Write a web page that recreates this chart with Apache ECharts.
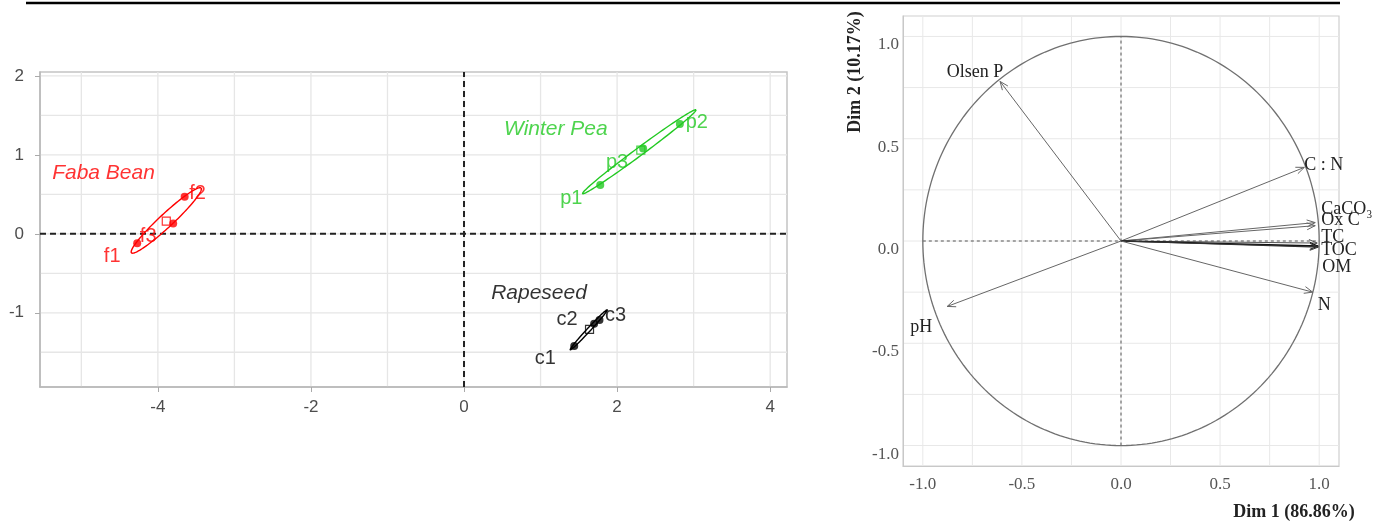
<!DOCTYPE html>
<html><head><meta charset="utf-8">
<script src="https://cdn.jsdelivr.net/npm/echarts@6/dist/echarts.min.js"></script>
<style>html,body{margin:0;padding:0;background:#fff}#c{width:1381px;height:523px}</style>
</head><body><div id="c"></div>
<script>
// ---------- Left panel: individuals ----------
const fabaNames = ['f1', 'f2', 'f3'];
const fabaX = [-4.27, -3.65, -3.80];
const fabaY = [-0.12, 0.47, 0.13];
const peaNames = ['p1', 'p2', 'p3'];
const peaX = [1.78, 2.82, 2.34];
const peaY = [0.62, 1.39, 1.08];
const rapeNames = ['c1', 'c2', 'c3'];
const rapeX = [1.44, 1.70, 1.77];
const rapeY = [-1.42, -1.14, -1.09];
const groupNames = ['Faba Bean', 'Winter Pea', 'Rapeseed'];
const groupCentroidX = [-3.89, 2.31, 1.64];
const groupCentroidY = [0.16, 1.06, -1.21];
// confidence ellipses: centre, major semi-axis vector, minor semi-axis vector (data units)
const ellipseCenterX = [-3.89, 2.29, 1.63];
const ellipseCenterY = [0.17, 1.04, -1.215];
const ellipseMajorX = [0.455, 0.74, 0.242];
const ellipseMajorY = [0.41, 0.53, 0.253];
const ellipseMinorX = [-0.058, -0.029, -0.016];
const ellipseMinorY = [0.064, 0.041, 0.015];
const groupLabelX = [-4.71, 1.20, 0.98];
const groupLabelY = [0.77, 1.32, -0.75];
const leftXTicks = [-4, -2, 0, 2, 4];
const leftYTicks = [-1, 0, 1, 2];
const leftXGrid = [-5, -4, -3, -2, -1, 0, 1, 2, 3, 4];
const leftYGrid = [-1.5, -1, -0.5, 0, 0.5, 1, 1.5, 2];
const leftXRange = [-5.54, 4.22];
const leftYRange = [-1.94, 2.05];

// ---------- Right panel: variables ----------
const varNames = ['Olsen P', 'C : N', 'CaCO₃', 'Ox C', 'TC', 'TOC', 'OM', 'N', 'pH'];
const varDim1 = [-0.61, 0.925, 0.98, 0.98, 0.99, 0.995, 0.995, 0.967, -0.877];
const varDim2 = [0.78, 0.36, 0.09, 0.075, -0.01, -0.025, -0.03, -0.25, -0.32];
const rightTicks = [-1, -0.5, 0, 0.5, 1];
const rightGrid = [-1, -0.75, -0.5, -0.25, 0, 0.25, 0.5, 0.75, 1];
const rightRange = [-1.1, 1.1];
const xTitle = 'Dim 1 (86.86%)';
const yTitle = 'Dim 2 (10.17%)';

// ---------- styles ----------
const SANS = 'Liberation Sans, Arial, sans-serif';
const SERIF = 'Liberation Serif, Times New Roman, serif';
const groupColors = ['#ff0000', '#22c922', '#000000'];
const pointLabelOffsets = [
  [[-25, 13], [13, -3], [-25, 13]],
  [[-29, 14], [17, -2], [-26, 14]],
  [[-29, 13], [-27, -4], [16, -4]]
];
const varColors = ['#666', '#666', '#666', '#666', '#555', '#111', '#333', '#666', '#666'];
const varWidths = [1, 1, 1, 1, 1, 1.6, 1.2, 1, 1];
const varLabelStyle = [
  {dx: -25, dy: -9, align: 'center'},
  {dx: 0, dy: -2, align: 'left'},
  {dx: 6, dy: -13, align: 'left'},
  {dx: 6, dy: -5, align: 'left'},
  {dx: 4, dy: -6, align: 'left'},
  {dx: 3, dy: 4, align: 'left'},
  {dx: 4, dy: 20, align: 'left'},
  {dx: 5, dy: 13, align: 'left'},
  {dx: -26, dy: 21, align: 'center'}
];

function gridRender(xs, ys, xr, yr, style) {
  return function (params, api) {
    const ch = [];
    xs.forEach(v => {
      const a = api.coord([v, yr[0]]), b = api.coord([v, yr[1]]);
      ch.push({type: 'line', shape: {x1: a[0], y1: a[1], x2: b[0], y2: b[1]}, style: style});
    });
    ys.forEach(v => {
      const a = api.coord([xr[0], v]), b = api.coord([xr[1], v]);
      ch.push({type: 'line', shape: {x1: a[0], y1: a[1], x2: b[0], y2: b[1]}, style: style});
    });
    return {type: 'group', children: ch};
  };
}

const groupsX = [fabaX, peaX, rapeX];
const groupsY = [fabaY, peaY, rapeY];
const groupsN = [fabaNames, peaNames, rapeNames];

const series = [];
// grid lines
series.push({
  type: 'custom', xAxisIndex: 0, yAxisIndex: 0, silent: true, z: 0, data: [[0, 0]],
  renderItem: gridRender(leftXGrid, leftYGrid, leftXRange, leftYRange, {stroke: '#e6e6e6', lineWidth: 1.3})
});
series.push({
  type: 'custom', xAxisIndex: 1, yAxisIndex: 1, silent: true, z: 0, data: [[0, 0]],
  renderItem: gridRender(rightGrid, rightGrid, rightRange, rightRange, {stroke: '#e8e8e8', lineWidth: 1})
});
// dashed reference lines
series.push({
  type: 'custom', xAxisIndex: 0, yAxisIndex: 0, silent: true, z: 1, data: [[0, 0]],
  renderItem: gridRender([0], [0], leftXRange, leftYRange, {stroke: '#222', lineWidth: 2, lineDash: [6, 4]})
});
series.push({
  type: 'custom', xAxisIndex: 1, yAxisIndex: 1, silent: true, z: 1, data: [[0, 0]],
  renderItem: gridRender([0], [0], [-1, 1], [-1, 1], {stroke: '#555', lineWidth: 1, lineDash: [3, 3]})
});

// ellipses, points, centroids, group labels
for (let g = 0; g < 3; g++) {
  series.push({
    type: 'custom', xAxisIndex: 0, yAxisIndex: 0, silent: true, z: 2, data: [[ellipseCenterX[g], ellipseCenterY[g]]],
    renderItem: function (params, api) {
      const pts = [];
      for (let k = 0; k <= 120; k++) {
        const t = k / 120 * Math.PI * 2;
        pts.push(api.coord([
          ellipseCenterX[g] + Math.cos(t) * ellipseMajorX[g] + Math.sin(t) * ellipseMinorX[g],
          ellipseCenterY[g] + Math.cos(t) * ellipseMajorY[g] + Math.sin(t) * ellipseMinorY[g]
        ]));
      }
      return {type: 'polyline', shape: {points: pts}, style: {stroke: groupColors[g], lineWidth: 1.4, fill: null}};
    }
  });
  series.push({
    type: 'scatter', xAxisIndex: 0, yAxisIndex: 0, z: 3, symbol: 'circle', symbolSize: 8,
    itemStyle: {color: groupColors[g]},
    label: {show: true, position: 'inside', formatter: '{b}', color: groupColors[g], fontSize: 20, fontFamily: SANS},
    data: groupsN[g].map((n, i) => ({name: n, value: [groupsX[g][i], groupsY[g][i]], label: {offset: pointLabelOffsets[g][i]}}))
  });
  series.push({
    type: 'scatter', xAxisIndex: 0, yAxisIndex: 0, z: 3, symbol: 'rect', symbolSize: 8,
    itemStyle: {color: 'rgba(255,255,255,0)', borderColor: groupColors[g], borderWidth: 1.2},
    data: [[groupCentroidX[g], groupCentroidY[g]]]
  });
  series.push({
    type: 'scatter', xAxisIndex: 0, yAxisIndex: 0, z: 3, symbolSize: 0, silent: true,
    label: {show: true, position: 'inside', formatter: '{b}', color: groupColors[g], fontSize: 21, fontStyle: 'italic', fontFamily: SANS},
    data: [{name: groupNames[g], value: [groupLabelX[g], groupLabelY[g]]}]
  });
}

// correlation circle
series.push({
  type: 'custom', xAxisIndex: 1, yAxisIndex: 1, silent: true, z: 2, data: [[0, 0]],
  renderItem: function (params, api) {
    const pts = [];
    for (let k = 0; k <= 240; k++) {
      const t = k / 240 * Math.PI * 2;
      pts.push(api.coord([Math.cos(t), Math.sin(t)]));
    }
    return {type: 'polyline', shape: {points: pts}, style: {stroke: '#707070', lineWidth: 1.3, fill: null}};
  }
});
// variable arrows
series.push({
  type: 'custom', xAxisIndex: 1, yAxisIndex: 1, silent: true, z: 3,
  data: varNames.map((n, i) => [varDim1[i], varDim2[i]]),
  renderItem: function (params, api) {
    const i = params.dataIndex;
    const p0 = api.coord([0, 0]);
    const p1 = api.coord([api.value(0), api.value(1)]);
    const ang = Math.atan2(p1[1] - p0[1], p1[0] - p0[0]);
    const L = 9, a = Math.PI / 8;
    const h1 = [p1[0] - L * Math.cos(ang - a), p1[1] - L * Math.sin(ang - a)];
    const h2 = [p1[0] - L * Math.cos(ang + a), p1[1] - L * Math.sin(ang + a)];
    const col = varColors[i];
    const ls = varLabelStyle[i];
    return {type: 'group', children: [
      {type: 'line', shape: {x1: p0[0], y1: p0[1], x2: p1[0], y2: p1[1]}, style: {stroke: col, lineWidth: varWidths[i]}},
      {type: 'polyline', shape: {points: [h1, p1, h2]}, style: {stroke: col, lineWidth: 1, fill: null}},
      {type: 'text', x: p1[0] + ls.dx, y: p1[1] + ls.dy,
        style: {text: varNames[i], fill: '#222', fontSize: 18, fontFamily: SERIF, align: ls.align, verticalAlign: 'middle'}}
    ]};
  }
});

const chart = echarts.init(document.getElementById('c'), null, {renderer: 'canvas'});
chart.setOption({
  animation: false,
  backgroundColor: '#fff',
  grid: [
    {left: 40, top: 72, width: 747, height: 315, show: true, borderColor: '#c4c4c4', borderWidth: 1.5, backgroundColor: 'rgba(0,0,0,0)'},
    {left: 903, top: 16, width: 436, height: 450, show: true, borderColor: '#cfcfcf', borderWidth: 1.2, backgroundColor: 'rgba(0,0,0,0)'}
  ],
  xAxis: [
    {gridIndex: 0, type: 'value', min: leftXRange[0], max: leftXRange[1], splitLine: {show: false},
      axisLine: {show: true, onZero: false, lineStyle: {color: '#b8b8b8', width: 1.5}},
      axisTick: {show: true, customValues: leftXTicks, length: 5, lineStyle: {color: '#aaa'}},
      axisLabel: {customValues: leftXTicks, color: '#4d4d4d', fontSize: 17, fontFamily: SANS, margin: 12}},
    {gridIndex: 1, type: 'value', min: rightRange[0], max: rightRange[1], splitLine: {show: false},
      axisLine: {show: true, onZero: false, lineStyle: {color: '#c8c8c8'}},
      axisTick: {show: false},
      axisLabel: {customValues: rightTicks, color: '#555', fontSize: 17, fontFamily: SERIF, margin: 10,
        formatter: v => v.toFixed(1)}}
  ],
  yAxis: [
    {gridIndex: 0, type: 'value', min: leftYRange[0], max: leftYRange[1], splitLine: {show: false},
      axisLine: {show: true, onZero: false, lineStyle: {color: '#b8b8b8', width: 1.5}},
      axisTick: {show: true, customValues: leftYTicks, length: 5, lineStyle: {color: '#aaa'}},
      axisLabel: {customValues: leftYTicks, color: '#4d4d4d', fontSize: 17, fontFamily: SANS, margin: 16}},
    {gridIndex: 1, type: 'value', min: rightRange[0], max: rightRange[1], splitLine: {show: false},
      axisLine: {show: true, onZero: false, lineStyle: {color: '#c8c8c8'}},
      axisTick: {show: false},
      axisLabel: {customValues: rightTicks, color: '#555', fontSize: 17, fontFamily: SERIF, margin: 4,
        verticalAlign: 'top', formatter: v => v.toFixed(1)}}
  ],
  graphic: [
    {type: 'line', shape: {x1: 26, y1: 3, x2: 1340, y2: 3}, style: {stroke: '#000', lineWidth: 2.5}, silent: true},
    {type: 'text', x: 1294, y: 512, style: {text: xTitle, fontSize: 18, fontWeight: 'bold', fontFamily: SERIF, fill: '#222', align: 'center', verticalAlign: 'middle'}},
    {type: 'text', x: 855, y: 72, rotation: Math.PI / 2, style: {text: yTitle, fontSize: 18, fontWeight: 'bold', fontFamily: SERIF, fill: '#222', align: 'center', verticalAlign: 'middle'}}
  ],
  series: series
});
</script>
</body></html>
